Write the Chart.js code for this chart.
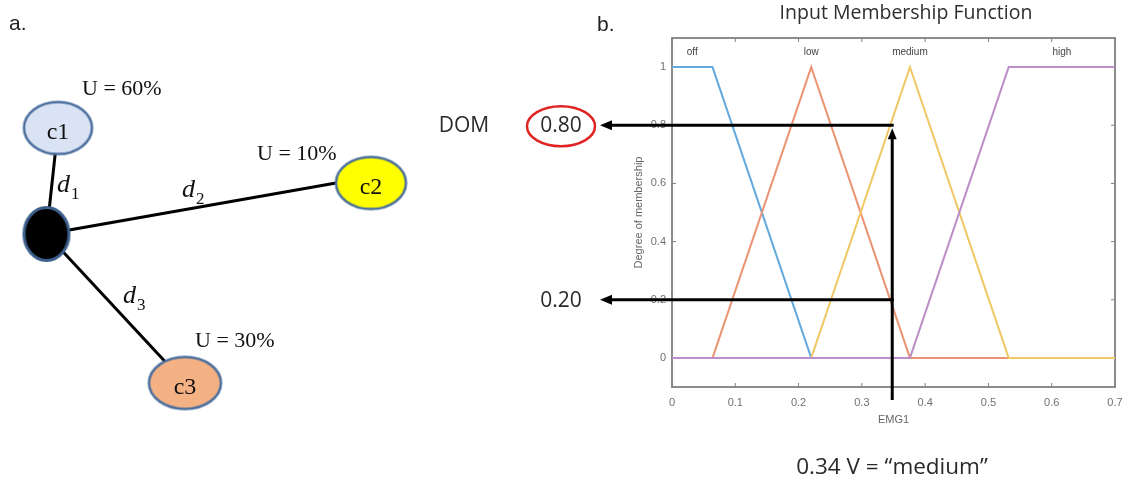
<!DOCTYPE html>
<html><head><meta charset="utf-8">
<script src="https://cdn.jsdelivr.net/npm/chart.js@4.4.1/dist/chart.umd.min.js"></script>
<style>
html,body{margin:0;padding:0;background:#fff;width:1124px;height:480px;overflow:hidden}
#wa{position:absolute;left:0;top:0;width:420px;height:480px}
#wb{position:absolute;left:420px;top:0;width:704px;height:480px}
</style></head><body>
<div id="wa"><canvas id="ca" width="420" height="480"></canvas></div>
<div id="wb"><canvas id="cb" width="704" height="480"></canvas></div>
<script>
// ---------- Panel b data ----------
const xTickValues = [0, 0.1, 0.2, 0.3, 0.4, 0.5, 0.6, 0.7];
const xTickLabels = ['0', '0.1', '0.2', '0.3', '0.4', '0.5', '0.6', '0.7'];
const yTickValues = [0, 0.2, 0.4, 0.6, 0.8, 1];
const yTickLabels = ['0', '0.2', '0.4', '0.6', '0.8', '1'];
const mfNames = ['off', 'low', 'medium', 'high'];
const offX = [0, 0.064, 0.22, 0.7];
const offY = [1, 1, 0, 0];
const lowX = [0, 0.064, 0.22, 0.376, 0.7];
const lowY = [0, 0, 1, 0, 0];
const mediumX = [0, 0.22, 0.376, 0.532, 0.7];
const mediumY = [0, 0, 1, 0, 0];
const highX = [0, 0.376, 0.532, 0.7];
const highY = [0, 0, 1, 1];
const inputValue = 0.348;
const domValues = [0.80, 0.20];
const domLabels = ['0.80', '0.20'];

// ---------- Panel a data (diagram coordinates) ----------
const hubPos = [46.5, 234];
const nodeNames = ['c1', 'c2', 'c3'];
const nodeX = [58, 371, 185];
const nodeY = [128, 183, 383];
const nodeUsage = ['U = 60%', 'U = 10%', 'U = 30%'];
const edgeEndX = [58, 336, 185];
const edgeEndY = [128, 183, 383];
const edgeNames = ['1', '2', '3'];

// ---------- Panel a chart ----------
function ellipseImg(rx, ry, fill, stroke, lw) {
  const c = document.createElement('canvas');
  c.width = Math.ceil(2 * rx + lw + 2);
  c.height = Math.ceil(2 * ry + lw + 2);
  const g = c.getContext('2d');
  g.beginPath();
  g.ellipse(c.width / 2, c.height / 2, rx, ry, 0, 0, Math.PI * 2);
  g.fillStyle = fill; g.fill();
  g.lineWidth = lw; g.strokeStyle = stroke; g.stroke();
  return c;
}
const nodeFills = ['#dae3f3', '#ffff00', '#f4b183'];
const nodeStroke = '#4a6e9c';
const nodeImgs = [
  ellipseImg(34, 26, nodeFills[0], nodeStroke, 2.5),
  ellipseImg(35, 26, nodeFills[1], nodeStroke, 2.5),
  ellipseImg(36, 26, nodeFills[2], nodeStroke, 2.5)
];
const hubImg = ellipseImg(22.5, 26.5, '#000000', '#3d5f8c', 3);

const edgeSets = edgeEndX.map((ex, i) => ({
  label: 'd' + edgeNames[i],
  data: [{x: hubPos[0], y: hubPos[1]}, {x: ex, y: edgeEndY[i]}],
  showLine: true, borderColor: '#000', borderWidth: 3, pointRadius: 0, order: 3
}));

const labelPluginA = {
  id: 'labelsA',
  afterDatasetsDraw(chart) {
    const ctx = chart.ctx, xs = chart.scales.x, ys = chart.scales.y;
    ctx.save();
    ctx.fillStyle = '#222';
    ctx.font = '21px "Liberation Sans", Arial, sans-serif';
    ctx.textBaseline = 'alphabetic';
    ctx.textAlign = 'left';
    ctx.fillText('a.', 9, 30);
    // node names
    ctx.font = '24px "Liberation Serif", "Times New Roman", serif';
    ctx.textAlign = 'center';
    ctx.fillStyle = '#111';
    nodeNames.forEach((n, i) => {
      ctx.fillText(n, xs.getPixelForValue(nodeX[i]), ys.getPixelForValue(nodeY[i]) + 11);
    });
    // usage labels
    ctx.font = '22px "Liberation Serif", "Times New Roman", serif';
    ctx.textAlign = 'left';
    const uOff = [[24, -33], [-114, -23], [10, -36]];
    nodeUsage.forEach((u, i) => {
      ctx.fillText(u, xs.getPixelForValue(nodeX[i]) + uOff[i][0], ys.getPixelForValue(nodeY[i]) + uOff[i][1]);
    });
    // edge labels
    const dPos = [[57, 192], [182, 197], [123, 303]];
    edgeNames.forEach((s, i) => {
      ctx.font = 'italic 26px "Liberation Serif", "Times New Roman", serif';
      ctx.textAlign = 'left';
      ctx.fillText('d', dPos[i][0], dPos[i][1]);
      const w = ctx.measureText('d').width;
      ctx.font = '17px "Liberation Serif", "Times New Roman", serif';
      ctx.fillText(s, dPos[i][0] + w + 1, dPos[i][1] + 7);
    });
    ctx.restore();
  }
};

new Chart(document.getElementById('ca'), {
  type: 'scatter',
  data: {
    datasets: [
      ...edgeSets,
      {label: 'hub', data: [{x: hubPos[0], y: hubPos[1]}], pointStyle: hubImg, pointRadius: 27, order: 2},
      {label: 'nodes', data: nodeX.map((x, i) => ({x, y: nodeY[i]})), pointStyle: nodeImgs, pointRadius: 27, order: 1}
    ]
  },
  options: {
    responsive: false, animation: false, devicePixelRatio: 1,
    layout: {padding: 0, autoPadding: false},
    plugins: {legend: {display: false}, tooltip: {enabled: false}},
    scales: {
      x: {type: 'linear', min: 0, max: 420, display: false},
      y: {type: 'linear', min: 0, max: 480, reverse: true, display: false}
    }
  },
  plugins: [labelPluginA]
});

// ---------- Panel b chart ----------
const mfColors = ['#64aadd', '#eb9474', '#f0c866', '#bc8fc8'];
const mfXs = [offX, lowX, mediumX, highX];
const mfYs = [offY, lowY, mediumY, highY];
const mfSets = mfNames.map((n, k) => ({
  label: n,
  data: mfXs[k].map((x, i) => ({x, y: mfYs[k][i]})),
  showLine: true, borderColor: mfColors[k], borderWidth: 2, pointRadius: 0, tension: 0,
  order: 4 - k
}));

function arrowLine(ctx, x1, y1, x2, y2, hl, hw) {
  const a = Math.atan2(y2 - y1, x2 - x1);
  const bx = x2 - Math.cos(a) * hl * 0.8, by = y2 - Math.sin(a) * hl * 0.8;
  ctx.beginPath(); ctx.moveTo(x1, y1); ctx.lineTo(bx, by); ctx.stroke();
  ctx.beginPath();
  ctx.moveTo(x2, y2);
  ctx.lineTo(x2 - Math.cos(a) * hl - Math.sin(a) * hw, y2 - Math.sin(a) * hl + Math.cos(a) * hw);
  ctx.lineTo(x2 - Math.cos(a) * hl + Math.sin(a) * hw, y2 - Math.sin(a) * hl - Math.cos(a) * hw);
  ctx.closePath(); ctx.fill();
}

const pluginB = {
  id: 'decorB',
  beforeDatasetsDraw(chart) {
    const {ctx, chartArea: ca} = chart;
    const xs = chart.scales.x, ys = chart.scales.y;
    ctx.save();
    ctx.strokeStyle = '#808080';
    ctx.lineWidth = 1.8;
    ctx.strokeRect(ca.left, ca.top, ca.right - ca.left, ca.bottom - ca.top);
    ctx.lineWidth = 1;
    xTickValues.forEach(v => {
      const px = xs.getPixelForValue(v);
      ctx.beginPath();
      ctx.moveTo(px, ca.bottom); ctx.lineTo(px, ca.bottom - 4);
      ctx.moveTo(px, ca.top); ctx.lineTo(px, ca.top + 4);
      ctx.stroke();
    });
    yTickValues.forEach(v => {
      const py = ys.getPixelForValue(v);
      ctx.beginPath();
      ctx.moveTo(ca.left, py); ctx.lineTo(ca.left + 4, py);
      ctx.moveTo(ca.right, py); ctx.lineTo(ca.right - 4, py);
      ctx.stroke();
    });
    ctx.restore();
  },
  afterDraw(chart) {
    const {ctx, chartArea: ca} = chart;
    const xs = chart.scales.x, ys = chart.scales.y;
    ctx.save();
    // MF labels at plateau centres
    ctx.font = '10px "Liberation Sans", Arial, sans-serif';
    ctx.fillStyle = '#444';
    ctx.textAlign = 'center'; ctx.textBaseline = 'middle';
    mfNames.forEach((n, k) => {
      const top = mfXs[k].filter((x, i) => mfYs[k][i] === 1);
      const cx = top.reduce((a, b) => a + b, 0) / top.length;
      ctx.fillText(n, xs.getPixelForValue(cx), ys.getPixelForValue(1.05));
    });
    // title and panel letter
    ctx.fillStyle = '#2e2e2e';
    ctx.font = '19.5px "Open Sans", "Noto Sans", sans-serif';
    ctx.fillText('Input Membership Function', 486, 13);
    ctx.textAlign = 'left'; ctx.textBaseline = 'alphabetic';
    ctx.fillStyle = '#222';
    ctx.font = '21px "Liberation Sans", Arial, sans-serif';
    ctx.fillText('b.', 177, 31);
    // arrows
    ctx.strokeStyle = '#000'; ctx.fillStyle = '#000'; ctx.lineWidth = 3;
    const px = xs.getPixelForValue(inputValue);
    const leftTip = 180;
    domValues.forEach(d => {
      const py = ys.getPixelForValue(d);
      arrowLine(ctx, px + 1.5, py, leftTip, py, 12, 5);
    });
    arrowLine(ctx, px, ys.getPixelForValue(-0.145), px, ys.getPixelForValue(domValues[0]) + 3, 11, 4.5);
    // DOM labels
    ctx.fillStyle = '#2a2a2a';
    ctx.font = '21px "Open Sans", "Noto Sans", sans-serif';
    ctx.textAlign = 'center'; ctx.textBaseline = 'middle';
    ctx.fillText('DOM', 44, ys.getPixelForValue(domValues[0]) + 1);
    domLabels.forEach((l, i) => {
      ctx.fillText(l, 141, ys.getPixelForValue(domValues[i]) + 1);
    });
    ctx.strokeStyle = '#e02424'; ctx.lineWidth = 2.5;
    ctx.beginPath();
    ctx.ellipse(141, ys.getPixelForValue(domValues[0]) + 1, 34, 20, 0, 0, Math.PI * 2);
    ctx.stroke();
    ctx.font = '22.5px "Open Sans", "Noto Sans", sans-serif';
    ctx.fillText('0.34 V = \u201Cmedium\u201D', 472, 468);
    ctx.restore();
  }
};

new Chart(document.getElementById('cb'), {
  type: 'scatter',
  data: {datasets: mfSets},
  options: {
    responsive: false, animation: false, devicePixelRatio: 1,
    layout: {padding: {left: 212, right: 9, top: 38, bottom: 48}},
    plugins: {legend: {display: false}, tooltip: {enabled: false}},
    scales: {
      x: {
        type: 'linear', min: 0, max: 0.7,
        afterBuildTicks: s => { s.ticks = xTickValues.map(v => ({value: v})); },
        afterFit: s => { s.height = 45; s.paddingLeft = 0; s.paddingRight = 0; },
        grid: {display: false, drawTicks: false},
        border: {display: false},
        ticks: {
          callback: v => xTickLabels[xTickValues.indexOf(v)],
          padding: 9, autoSkip: false, maxRotation: 0,
          color: '#707070', font: {family: '"Liberation Sans", Arial, sans-serif', size: 11}
        },
        title: {display: true, text: 'EMG1', color: '#666',
          font: {family: '"Liberation Sans", Arial, sans-serif', size: 11}, padding: {top: 0, bottom: 5}}
      },
      y: {
        type: 'linear', min: -0.1, max: 1.1,
        afterBuildTicks: s => { s.ticks = yTickValues.map(v => ({value: v})); },
        afterFit: s => { s.width = 40; s.paddingTop = 0; s.paddingBottom = 0; },
        grid: {display: false, drawTicks: false},
        border: {display: false},
        ticks: {
          callback: v => yTickLabels[yTickValues.indexOf(v)],
          padding: 6, autoSkip: false,
          color: '#707070', font: {family: '"Liberation Sans", Arial, sans-serif', size: 11}
        },
        title: {display: true, text: 'Degree of membership', color: '#666',
          font: {family: '"Liberation Sans", Arial, sans-serif', size: 11}, padding: {top: 0, bottom: 0}}
      }
    }
  },
  plugins: [pluginB]
});
</script>
</body></html>
